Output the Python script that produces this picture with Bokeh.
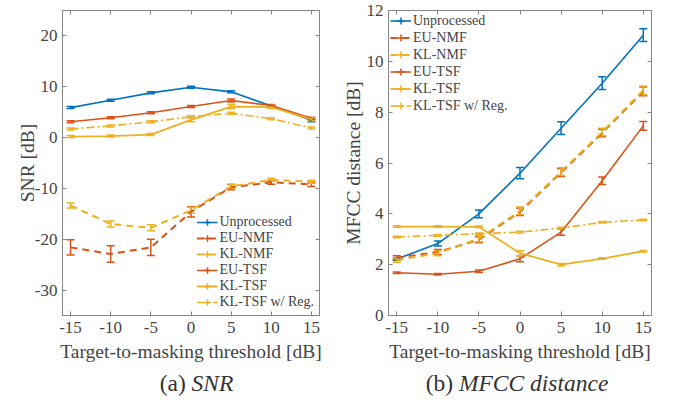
import numpy as np
from bokeh.plotting import figure
from bokeh.models import (ColumnDataSource, Whisker, TeeHead, Legend, LegendItem,
                          LinearAxis, FixedTicker, Range1d, Div)
from bokeh.layouts import row, column
from bokeh.embed import file_html
from bokeh.resources import INLINE

# ---------------- data ----------------
thresholds = [-15, -10, -5, 0, 5, 10, 15]
series_names = ["Unprocessed", "EU-NMF", "KL-NMF", "EU-TSF", "KL-TSF", "KL-TSF w/ Reg."]

# (a) SNR [dB]
snr_unprocessed = [5.9, 7.35, 8.8, 9.9, 9.0, 6.2, 3.4]
snr_unprocessed_err = [0.2, 0.2, 0.2, 0.2, 0.2, 0.2, 0.3]
snr_eu_nmf = [-21.6, -22.9, -21.6, -14.6, -9.75, -8.8, -9.2]
snr_eu_nmf_err = [1.5, 1.6, 1.6, 1.0, 0.5, 0.4, 0.4]
snr_kl_nmf = [-13.35, -17.0, -17.75, -14.3, -9.6, -8.3, -8.7]
snr_kl_nmf_err = [0.5, 0.6, 0.6, 0.6, 0.4, 0.3, 0.3]
snr_eu_tsf = [3.1, 3.9, 4.9, 6.1, 7.3, 6.3, 3.8]
snr_eu_tsf_err = [0.2, 0.2, 0.2, 0.2, 0.3, 0.2, 0.2]
snr_kl_tsf = [0.2, 0.3, 0.6, 3.5, 6.1, 6.0, 3.6]
snr_kl_tsf_err = [0.2, 0.2, 0.2, 0.4, 0.4, 0.3, 0.3]
snr_kl_tsf_reg = [1.7, 2.3, 3.1, 4.1, 4.8, 3.7, 1.9]
snr_kl_tsf_reg_err = [0.2, 0.2, 0.2, 0.2, 0.2, 0.2, 0.2]

# (b) MFCC distance [dB]
mfcc_unprocessed = [2.22, 2.83, 4.0, 5.6, 7.37, 9.14, 11.03]
mfcc_unprocessed_err = [0.05, 0.1, 0.15, 0.22, 0.25, 0.25, 0.25]
mfcc_eu_nmf = [2.27, 2.5, 2.98, 4.08, 5.62, 7.18, 8.82]
mfcc_eu_nmf_err = [0.08, 0.1, 0.12, 0.15, 0.15, 0.15, 0.17]
mfcc_kl_nmf = [2.18, 2.45, 3.02, 4.12, 5.66, 7.22, 8.86]
mfcc_kl_nmf_err = [0.08, 0.1, 0.12, 0.15, 0.15, 0.15, 0.17]
mfcc_eu_tsf = [1.68, 1.62, 1.74, 2.23, 3.28, 5.3, 7.46]
mfcc_eu_tsf_err = [0.03, 0.03, 0.05, 0.12, 0.12, 0.15, 0.17]
mfcc_kl_tsf = [3.5, 3.5, 3.49, 2.45, 2.0, 2.24, 2.53]
mfcc_kl_tsf_err = [0.03, 0.03, 0.03, 0.1, 0.05, 0.03, 0.03]
mfcc_kl_tsf_reg = [3.09, 3.15, 3.22, 3.28, 3.44, 3.67, 3.76]
mfcc_kl_tsf_reg_err = [0.03, 0.03, 0.03, 0.03, 0.03, 0.03, 0.03]

snr_ticks = [-30, -20, -10, 0, 10, 20]
mfcc_ticks = [0, 2, 4, 6, 8, 10, 12]

# ---------------- style ----------------
FONT = "Liberation Serif"
AX = "#858585"
TXT = "#444444"
BLUE, RED, ORANGE = "#0072BD", "#D95319", "#EDB120"
styles = [
    (BLUE, "solid", 1.6),
    (RED, "7 5", 2.0),
    (ORANGE, "7 5", 2.0),
    (RED, "solid", 1.6),
    (ORANGE, "solid", 1.8),
    (ORANGE, "8 3 2 3", 1.6),
]

TOP = 10
FH = 305


def build(values, errors, yrange, yticks, ylabel, legend_loc, borders, fw, row_h, margin,
          ylab_standoff):
    bl, br = borders
    p = figure(frame_width=fw, frame_height=FH,
               x_range=Range1d(-16, 16), y_range=Range1d(*yrange),
               output_backend="svg", toolbar_location=None,
               min_border_left=bl, min_border_right=br,
               min_border_top=TOP, min_border_bottom=50,
               background_fill_color="white", border_fill_color="white")
    p.grid.visible = False
    p.outline_line_color = AX
    p.xaxis.ticker = FixedTicker(ticks=thresholds)
    p.yaxis.ticker = FixedTicker(ticks=yticks)
    p.xaxis.major_label_overrides = {t: str(t) for t in thresholds}
    p.yaxis.major_label_overrides = {t: str(t) for t in yticks}
    p.xaxis.axis_label = "Target-to-masking threshold [dB]"
    p.yaxis.axis_label = ylabel
    for ax in p.axis:
        ax.major_tick_in = 4
        ax.major_tick_out = 0
        ax.minor_tick_line_color = None
        ax.axis_line_color = AX
        ax.major_tick_line_color = AX
        ax.major_label_text_font = FONT
        ax.major_label_text_font_size = "17px"
        ax.major_label_text_color = TXT
        ax.axis_label_text_font = FONT
        ax.axis_label_text_font_size = "19.5px"
        ax.axis_label_text_font_style = "normal"
        ax.axis_label_text_color = TXT
    p.xaxis.major_label_standoff = 6
    p.xaxis.axis_label_standoff = 5
    p.yaxis.major_label_standoff = 5
    p.yaxis.axis_label_standoff = ylab_standoff

    # box ticks on top/right
    top = LinearAxis(ticker=FixedTicker(ticks=thresholds))
    right = LinearAxis(ticker=FixedTicker(ticks=yticks))
    for ax in (top, right):
        ax.major_tick_in = 4
        ax.major_tick_out = 0
        ax.minor_tick_line_color = None
        ax.axis_line_color = AX
        ax.major_tick_line_color = AX
        ax.major_label_text_font_size = "1px"
        ax.major_label_text_color = None
        ax.major_label_standoff = 0
    p.add_layout(top, "above")
    p.add_layout(right, "right")

    items = []
    for name, vals, errs, (color, dash, lw) in zip(series_names, values, errors, styles):
        src = ColumnDataSource(dict(
            x=thresholds, y=vals,
            upper=[v + e for v, e in zip(vals, errs)],
            lower=[v - e for v, e in zip(vals, errs)]))
        r = p.line("x", "y", source=src, line_color=color, line_dash=dash, line_width=lw)
        w = Whisker(source=src, base="x", upper="upper", lower="lower",
                    dimension="height", line_color=color, line_width=1.5,
                    upper_head=TeeHead(size=8, line_color=color, line_width=1.5),
                    lower_head=TeeHead(size=8, line_color=color, line_width=1.5))
        p.add_layout(w)
        proxy = p.scatter(x=[np.nan], y=[np.nan], marker="cross", size=9,
                          line_color=color, line_width=1.5)
        items.append(LegendItem(label=name, renderers=[r, proxy]))

    leg = Legend(items=items, location=legend_loc)
    leg.label_text_font = FONT
    leg.label_text_font_size = "14px"
    leg.label_text_color = TXT
    leg.label_height = row_h
    leg.glyph_height = row_h
    leg.glyph_width = 21
    leg.spacing = 0
    leg.label_standoff = 2
    leg.padding = 2
    leg.margin = margin
    leg.border_line_color = None
    leg.background_fill_alpha = 0
    p.add_layout(leg)
    return p


def caption(tag, name, width, shift):
    html = (f'<div style="position:relative;top:7px;margin-left:{shift}px;'
            f'width:{width - shift}px;text-align:center;font-family:\'Liberation Serif\';'
            f'font-size:23.5px;line-height:23px;color:#333333;white-space:nowrap">'
            f'{tag} <i>{name}</i></div>')
    return Div(text=html, width=width, height=27, margin=(0, 0, 0, 0))


p1 = build([snr_unprocessed, snr_eu_nmf, snr_kl_nmf, snr_eu_tsf, snr_kl_tsf, snr_kl_tsf_reg],
           [snr_unprocessed_err, snr_eu_nmf_err, snr_kl_nmf_err, snr_eu_tsf_err,
            snr_kl_tsf_err, snr_kl_tsf_reg_err],
           (-35, 25), snr_ticks, "SNR [dB]", "bottom_right", (62, 10), 257, 16, 5, -6)
p2 = build([mfcc_unprocessed, mfcc_eu_nmf, mfcc_kl_nmf, mfcc_eu_tsf, mfcc_kl_tsf, mfcc_kl_tsf_reg],
           [mfcc_unprocessed_err, mfcc_eu_nmf_err, mfcc_kl_nmf_err, mfcc_eu_tsf_err,
            mfcc_kl_tsf_err, mfcc_kl_tsf_reg_err],
           (0, 12), mfcc_ticks, "MFCC distance [dB]", "top_left", (59, 14), 263, 17, 2, 0)

cap1 = caption("(a)", "SNR", 329, 64)
cap2 = caption("(b)", "MFCC distance", 336, 40)

layout = column(row(p1, p2), row(cap1, cap2))
open("out.html", "w").write(file_html(layout, INLINE))
